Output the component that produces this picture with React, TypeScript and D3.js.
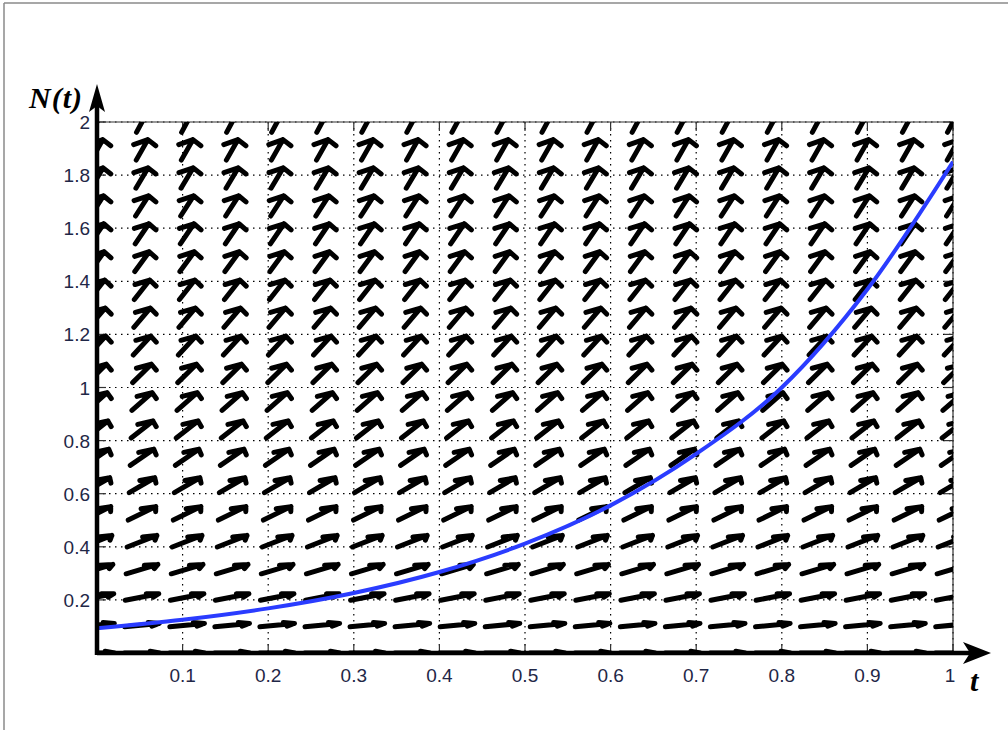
import React from 'react';
import * as d3 from 'd3';

// direction field grid (t columns, N rows) and slope dN/dt read per row
const tGrid = [0, 0.0526, 0.1053, 0.1579, 0.2105, 0.2632, 0.3158, 0.3684, 0.4211, 0.4737,
  0.5263, 0.5789, 0.6316, 0.6842, 0.7368, 0.7895, 0.8421, 0.8947, 0.9474, 1];
const nGrid = [0, 0.105, 0.211, 0.316, 0.421, 0.526, 0.632, 0.737, 0.842, 0.947,
  1.053, 1.158, 1.263, 1.368, 1.474, 1.579, 1.684, 1.789, 1.895, 2];
const rowSlopes = [0, 0.32, 0.63, 0.95, 1.26, 1.58, 1.89, 2.21, 2.53, 2.84,
  3.16, 3.47, 3.79, 4.1, 4.42, 4.74, 5.05, 5.37, 5.68, 6.0];

// solution curve N(t)
const curveT = [0, 0.1, 0.2, 0.3, 0.4, 0.5, 0.6, 0.7, 0.8, 0.9, 1];
const curveN = [0.093, 0.125, 0.168, 0.226, 0.305, 0.412, 0.556, 0.75, 1.0, 1.37, 1.85];

const xTicks = [0.1, 0.2, 0.3, 0.4, 0.5, 0.6, 0.7, 0.8, 0.9, 1];
const yTicks = [0.2, 0.4, 0.6, 0.8, 1, 1.2, 1.4, 1.6, 1.8, 2];
const xTickLabels = ['0.1', '0.2', '0.3', '0.4', '0.5', '0.6', '0.7', '0.8', '0.9', '1'];
const yTickLabels = ['0.2', '0.4', '0.6', '0.8', '1', '1.2', '1.4', '1.6', '1.8', '2'];

const W = 1008;
const H = 730;
const left = 97, right = 953, top = 122, bottom = 653;

export default function App() {
  const x = d3.scaleLinear().domain([0, 1]).range([left, right]);
  const y = d3.scaleLinear().domain([0, 2]).range([bottom, top]);

  const dt = tGrid[1] - tGrid[0];
  const dn = nGrid[1] - nGrid[0];
  const cellLen = 0.78;
  // matlab-like arrow head, computed in data space
  const alpha = 0.27, beta = 0.62;

  const arrows: string[] = [];
  nGrid.forEach((n, j) => {
    const s = rowSlopes[j];
    const uc = 1 / dt, vc = s / dn;
    const m = Math.sqrt(uc * uc + vc * vc);
    const u = (uc / m) * cellLen * dt;
    const v = (vc / m) * cellLen * dn;
    tGrid.forEach((t) => {
      const t0 = t - u / 2, n0 = n - v / 2;
      const t1 = t + u / 2, n1 = n + v / 2;
      const h1t = t1 - alpha * (u + beta * v), h1n = n1 - alpha * (v - beta * u);
      const h2t = t1 - alpha * (u - beta * v), h2n = n1 - alpha * (v + beta * u);
      arrows.push(
        `M${x(t0)},${y(n0)}L${x(t1)},${y(n1)}` +
        `M${x(h1t)},${y(h1n)}L${x(t1)},${y(n1)}L${x(h2t)},${y(h2n)}`
      );
    });
  });

  const line = d3.line<number>()
    .x((_, i) => x(curveT[i]))
    .y((d) => y(d))
    .curve(d3.curveMonotoneX);

  const labelColor = '#1f2747';

  return (
    <svg width={W} height={H} style={{ position: 'absolute', left: 0, top: 0, background: '#fff' }}
      fontFamily="'Liberation Sans', Arial, sans-serif">
      <defs>
        <clipPath id="plot">
          <rect x={left} y={top} width={right - left} height={bottom - top} />
        </clipPath>
      </defs>
      <rect x={0} y={0} width={W} height={H} fill="#fff" />
      {/* page border */}
      <line x1={4} y1={3} x2={W} y2={3} stroke="#8a8a8a" strokeWidth={1.5} />
      <line x1={4} y1={3} x2={4} y2={H} stroke="#8a8a8a" strokeWidth={1.5} />

      {/* grid */}
      {xTicks.map((t) => (
        <line key={'gx' + t} x1={x(t)} x2={x(t)} y1={top} y2={bottom}
          stroke="#000" strokeWidth={1.2} strokeDasharray="1.5,4.5" />
      ))}
      {yTicks.map((n) => (
        <line key={'gy' + n} x1={left} x2={right} y1={y(n)} y2={y(n)}
          stroke="#000" strokeWidth={1.2} strokeDasharray="1.5,4.5" />
      ))}

      {/* frame */}
      <path d={`M${left},${top}H${right}V${bottom}`} fill="none" stroke="#333" strokeWidth={1.2} />
      {xTicks.map((t) => (
        <g key={'tx' + t}>
          <line x1={x(t)} x2={x(t)} y1={top} y2={top + 9} stroke="#333" strokeWidth={1.2} />
          <line x1={x(t)} x2={x(t)} y1={bottom} y2={bottom - 9} stroke="#333" strokeWidth={1.2} />
        </g>
      ))}
      {yTicks.map((n) => (
        <g key={'ty' + n}>
          <line x1={left} x2={left + 9} y1={y(n)} y2={y(n)} stroke="#333" strokeWidth={1.2} />
          <line x1={right} x2={right - 9} y1={y(n)} y2={y(n)} stroke="#333" strokeWidth={1.2} />
        </g>
      ))}

      {/* direction field */}
      <g clipPath="url(#plot)">
        <path d={arrows.join('')} fill="none" stroke="#000" strokeWidth={5}
          strokeLinecap="round" strokeLinejoin="round" />
        <path d={line(curveN) || ''} fill="none" stroke="#2a3cff" strokeWidth={4} />
      </g>

      {/* axes with arrows */}
      <line x1={left} x2={972} y1={bottom} y2={bottom} stroke="#000" strokeWidth={4.5} />
      <path d={`M991,${bottom}L963,${bottom - 11}L970,${bottom}L963,${bottom + 11}Z`} fill="#000" />
      <line x1={left} x2={left} y1={bottom + 2} y2={102} stroke="#000" strokeWidth={4.5} />
      <path d={`M${left},84L${left - 8},112L${left},106L${left + 8},112Z`} fill="#000" />

      {/* tick labels */}
      {xTicks.map((t, i) => (
        <text key={'lx' + t} x={x(t) - (i === xTicks.length - 1 ? 3 : 0)} y={682} textAnchor="middle"
          fontSize={19} fill={labelColor}>{xTickLabels[i]}</text>
      ))}
      {yTicks.map((n, i) => (
        <text key={'ly' + n} x={90} y={y(n) + 7} textAnchor="end"
          fontSize={19} fill={labelColor}>{yTickLabels[i]}</text>
      ))}

      {/* axis titles */}
      <text x={29} y={108} fontFamily="'Liberation Serif', 'Times New Roman', serif"
        fontWeight="bold" fontStyle="italic" fontSize={30} letterSpacing={1}>N(t)</text>
      <text x={970} y={691} fontFamily="'Liberation Serif', 'Times New Roman', serif"
        fontWeight="bold" fontStyle="italic" fontSize={30}>t</text>
    </svg>
  );
}
